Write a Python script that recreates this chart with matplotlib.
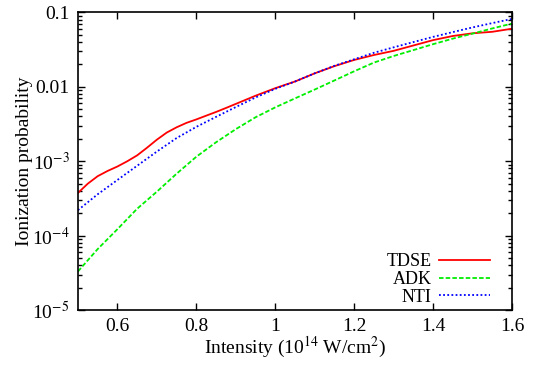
import numpy as np
import matplotlib
matplotlib.use("Agg")
import matplotlib.pyplot as plt
from matplotlib.ticker import LogLocator, NullFormatter, FixedLocator

plt.rcParams['font.family'] = ['Liberation Serif', 'DejaVu Serif']
plt.rcParams['mathtext.fontset'] = 'stix'

# data (intensity in 1e14 W/cm^2)
# TDSE has a bump, so it was read on a finer grid at the low end
x_tdse = [0.500, 0.525, 0.550, 0.575, 0.600, 0.625, 0.650, 0.675, 0.700, 0.725, 0.750,
          0.775, 0.800, 0.825, 0.850, 0.875, 0.900, 0.950, 1.000, 1.050, 1.100, 1.150,
          1.200, 1.250, 1.300, 1.350, 1.400, 1.450, 1.500, 1.550, 1.600]
tdse = [3.75e-4, 5.0e-4, 6.3e-4, 7.4e-4, 8.5e-4, 1.0e-3, 1.2e-3, 1.52e-3, 1.95e-3, 2.43e-3, 2.86e-3,
        3.28e-3, 3.65e-3, 4.1e-3, 4.6e-3, 5.2e-3, 5.9e-3, 7.6e-3, 9.6e-3, 0.0118, 0.0152, 0.0190,
        0.0230, 0.0268, 0.0305, 0.0360, 0.0425, 0.0483, 0.0525, 0.0550, 0.0605]

intensity = [0.50, 0.55, 0.60, 0.65, 0.70, 0.75, 0.80, 0.85, 0.90, 0.95, 1.00,
             1.05, 1.10, 1.15, 1.20, 1.25, 1.30, 1.35, 1.40, 1.45, 1.50, 1.55, 1.60]
adk = [3.3e-5, 6.6e-5, 1.22e-4, 2.3e-4, 3.9e-4, 6.8e-4, 1.15e-3, 1.8e-3, 2.7e-3, 3.9e-3, 5.3e-3,
       7.0e-3, 9.2e-3, 0.0122, 0.0162, 0.0212, 0.0260, 0.0312, 0.0375, 0.0445, 0.0520, 0.0610, 0.0710]
nti = [2.2e-4, 3.6e-4, 5.6e-4, 8.7e-4, 1.35e-3, 2.05e-3, 2.9e-3, 3.95e-3, 5.35e-3, 7.2e-3, 9.4e-3,
       0.0118, 0.0152, 0.0192, 0.0235, 0.0287, 0.0340, 0.0400, 0.0470, 0.0545, 0.0630, 0.0720, 0.0820]

xticks = [0.6, 0.8, 1.0, 1.2, 1.4, 1.6]
xticklabels = ['0.6', '0.8', '1', '1.2', '1.4', '1.6']
yticks = [1e-5, 1e-4, 1e-3, 1e-2, 1e-1]
yticklabels = ['10$^{-5}$', '10$^{-4}$', '10$^{-3}$', '0.01', '0.1']

fig = plt.figure(figsize=(5.33, 3.65), dpi=100)
ax = fig.add_axes([0.1463, 0.1507, 0.8143, 0.8151])

ax.plot(x_tdse, tdse, color='#ff0000', lw=1.3, label='TDSE')
ax.plot(intensity, adk, color='#00ee00', lw=1.3, ls=(0, (2.5, 1.2)), label='ADK')
ax.plot(intensity, nti, color='#0000ff', lw=1.3, ls=(0, (1, 1.3)), label='NTI')

ax.set_yscale('log')
ax.set_xlim(0.5, 1.6)
ax.set_ylim(1e-5, 0.1)
ax.set_xticks(xticks)
ax.set_xticklabels(xticklabels)
ax.yaxis.set_major_locator(FixedLocator(yticks))
ax.set_yticklabels(yticklabels)
ax.yaxis.set_minor_locator(LogLocator(base=10, subs=np.arange(2, 10), numticks=20))
ax.yaxis.set_minor_formatter(NullFormatter())

ax.tick_params(which='both', direction='in', top=True, right=True, labelsize=14, width=1.0)
ax.tick_params(which='major', length=5, pad=6)
ax.tick_params(which='minor', length=3)
for s in ax.spines.values():
    s.set_linewidth(1.2)

ax.set_xlabel('Intensity (10$^{14}$ W/cm$^{2}$)', fontsize=14, labelpad=0)
ax.set_ylabel('Ionization probability', fontsize=14, labelpad=-1)

ax.legend(loc='lower right', bbox_to_anchor=(0.9816, -0.0336), frameon=False,
          markerfirst=False, fontsize=13, handlelength=2.8, handletextpad=0.4,
          labelspacing=0.03, borderaxespad=0.4)

fig.savefig('out.png', dpi=100)
